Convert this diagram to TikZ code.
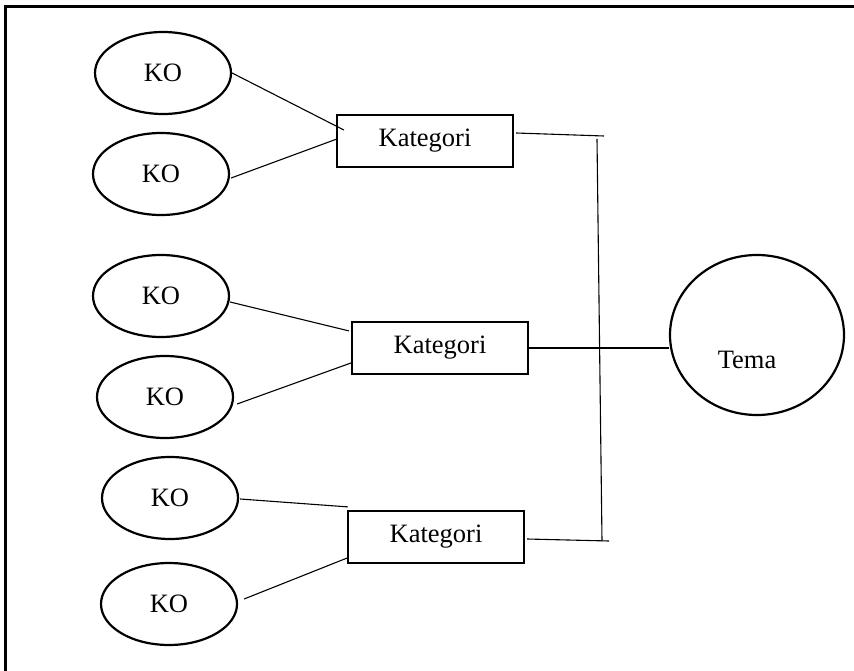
\documentclass[tikz,border=0pt]{standalone}
\usepackage{fontspec}
\setmainfont{Liberation Serif}
\usetikzlibrary{shapes.geometric,calc}
\begin{document}
\begin{tikzpicture}[x=1pt,y=-1pt,
  every node/.style={font=\fontsize{26.5}{30}\selectfont},
  code/.style={draw,ellipse,line width=2.2pt,inner sep=0pt,minimum width=136pt,minimum height=82pt},
  cat/.style={draw,rectangle,line width=2.2pt,inner sep=0pt,minimum width=176pt,minimum height=52pt},
  theme/.style={draw,ellipse,line width=2.2pt,inner sep=0pt,minimum width=174pt,minimum height=160pt},
  link/.style={line width=1.1pt},
  frame/.style={line width=3pt}]
  \useasboundingbox (0,0) rectangle (854,671);
  % outer frame: top and left edges only
  \draw[frame] (5,671) -- (5,6.5) -- (854,6.5);

  % codes
  \node[code] (ko1) at (163,73) {KO};
  \node[code] (ko2) at (161,174) {KO};
  \node[code] (ko3) at (161,296) {KO};
  \node[code] (ko4) at (165,397) {KO};
  \node[code] (ko5) at (170,498) {KO};
  \node[code] (ko6) at (169,604) {KO};

  % categories
  \node[cat] (kat1) at (425,141) {Kategori};
  \node[cat] (kat2) at (440,348) {Kategori};
  \node[cat] (kat3) at (436,537) {Kategori};

  % theme
  \node[theme, label={[shift={(-10pt,-25pt)}]center:Tema}] (tema) at (757,335) {};

  % codes to categories
  \draw[link] (ko1.east) -- ($(kat1.west)+(8,-11)$);
  \draw[link] ($(ko2.east)+(1,4)$) -- ($(kat1.west)+(1,-2)$);
  \draw[link] ($(ko3.east)+(0,6)$) -- ($(kat2.north west)+(-2,10)$);
  \draw[link] ($(ko4.east)+(3,7)$) -- ($(kat2.west)+(0,15)$);
  \draw[link] ($(ko5.east)+(1,1)$) -- ($(kat3.north west)+(1,-3)$);
  \draw[link] ($(ko6.east)+(6,-5)$) -- ($(kat3.south west)+(0,-6)$);

  % bracket joining the categories to the theme
  \coordinate (b1) at (604,136);
  \coordinate (b3) at (609,541);
  \coordinate (vt) at (597,139);
  \coordinate (vb) at (602,541);
  \draw[link] ($(kat1.east)+(2,-8)$) -- (b1);
  \draw[link] ($(kat3.east)+(2,2)$) -- (b3);
  \draw[link] (vt) -- (vb);
  \draw[link] (kat2.east) -- (kat2.east -| tema.west);
\end{tikzpicture}
\end{document}
